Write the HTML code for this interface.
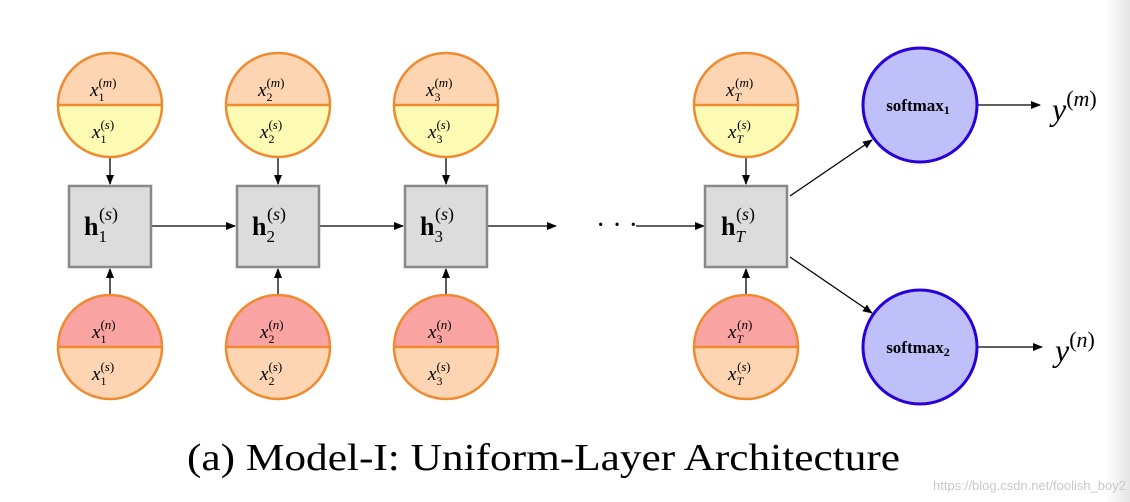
<!DOCTYPE html>
<html><head><meta charset="utf-8"><style>
html,body{margin:0;padding:0;background:#fff;}
svg{display:block;}
.m{font-family:"Liberation Serif",serif;font-style:italic;}
</style></head><body>
<svg width="1130" height="502" viewBox="0 0 1130 502" xmlns="http://www.w3.org/2000/svg">
<defs>
<linearGradient id="g" x1="0" x2="1"><stop offset="0" stop-color="#fff"/><stop offset="1" stop-color="#e4e4e4"/></linearGradient>
<marker id="a" markerWidth="10" markerHeight="8" refX="9" refY="4" orient="auto" markerUnits="userSpaceOnUse"><path d="M0,0 L10,4 L0,8 z" fill="#000"/></marker>
<clipPath id="ct"><rect x="0" y="0" width="1130" height="105"/></clipPath>
<clipPath id="cb"><rect x="0" y="105" width="1130" height="100"/></clipPath>
<clipPath id="ct2"><rect x="0" y="0" width="1130" height="347"/></clipPath>
<clipPath id="cb2"><rect x="0" y="347" width="1130" height="100"/></clipPath>
</defs>
<rect x="1105" y="0" width="25" height="502" fill="url(#g)"/>
<g id="cols" font-family="Liberation Serif,serif" font-style="italic" font-size="18" text-anchor="middle">
</g>
<!-- columns -->
<g stroke="#000" stroke-width="1.3" fill="none">
<line x1="110" y1="158" x2="110" y2="184" marker-end="url(#a)"/>
<line x1="278" y1="158" x2="278" y2="184" marker-end="url(#a)"/>
<line x1="446" y1="158" x2="446" y2="184" marker-end="url(#a)"/>
<line x1="746" y1="158" x2="746" y2="184" marker-end="url(#a)"/>
<line x1="110" y1="296" x2="110" y2="269" marker-end="url(#a)"/>
<line x1="278" y1="296" x2="278" y2="269" marker-end="url(#a)"/>
<line x1="446" y1="296" x2="446" y2="269" marker-end="url(#a)"/>
<line x1="746" y1="296" x2="746" y2="269" marker-end="url(#a)"/>
<line x1="152" y1="226" x2="235" y2="226" marker-end="url(#a)"/>
<line x1="320" y1="226" x2="403" y2="226" marker-end="url(#a)"/>
<line x1="488" y1="226" x2="556" y2="226" marker-end="url(#a)"/>
<line x1="636" y1="226" x2="704" y2="226" marker-end="url(#a)"/>
<line x1="790" y1="196" x2="872" y2="140" marker-end="url(#a)"/>
<line x1="790" y1="257" x2="872" y2="313" marker-end="url(#a)"/>
<line x1="978" y1="105" x2="1040" y2="105" marker-end="url(#a)"/>
<line x1="978" y1="347" x2="1042" y2="347" marker-end="url(#a)"/>
</g>
<text x="596" y="234" font-family="Liberation Serif,serif" font-size="28">· · ·</text>

<!-- top circles -->
<g stroke="#f08a30" stroke-width="2.5">
<g clip-path="url(#ct)">
<circle cx="110" cy="105" r="52" fill="#fdd5b2"/><circle cx="278" cy="105" r="52" fill="#fdd5b2"/><circle cx="446" cy="105" r="52" fill="#fdd5b2"/><circle cx="746" cy="105" r="52" fill="#fdd5b2"/>
</g>
<g clip-path="url(#cb)">
<circle cx="110" cy="105" r="52" fill="#fdfbb3"/><circle cx="278" cy="105" r="52" fill="#fdfbb3"/><circle cx="446" cy="105" r="52" fill="#fdfbb3"/><circle cx="746" cy="105" r="52" fill="#fdfbb3"/>
</g>
<g clip-path="url(#ct2)">
<circle cx="110" cy="347" r="52" fill="#f9a3a2"/><circle cx="278" cy="347" r="52" fill="#f9a3a2"/><circle cx="446" cy="347" r="52" fill="#f9a3a2"/><circle cx="746" cy="347" r="52" fill="#f9a3a2"/>
</g>
<g clip-path="url(#cb2)">
<circle cx="110" cy="347" r="52" fill="#fdd5b2"/><circle cx="278" cy="347" r="52" fill="#fdd5b2"/><circle cx="446" cy="347" r="52" fill="#fdd5b2"/><circle cx="746" cy="347" r="52" fill="#fdd5b2"/>
</g>
<line x1="58" y1="105" x2="162" y2="105"/><line x1="226" y1="105" x2="330" y2="105"/><line x1="394" y1="105" x2="498" y2="105"/><line x1="694" y1="105" x2="798" y2="105"/>
<line x1="58" y1="347" x2="162" y2="347"/><line x1="226" y1="347" x2="330" y2="347"/><line x1="394" y1="347" x2="498" y2="347"/><line x1="694" y1="347" x2="798" y2="347"/>
</g>
<!-- boxes -->
<g fill="#dcdcdc" stroke="#888" stroke-width="2.5">
<rect x="69" y="186" width="82" height="81"/><rect x="237" y="186" width="82" height="81"/><rect x="405" y="186" width="82" height="81"/><rect x="705" y="186" width="82" height="81"/>
</g>
<!-- softmax -->
<g fill="#bfbffa" stroke="#2a00d8" stroke-width="3">
<circle cx="920" cy="105" r="57"/><circle cx="920" cy="347" r="57"/>
</g>
<g font-family="Liberation Serif,serif" font-weight="bold" font-size="17" text-anchor="middle">
<text x="918" y="111">softmax<tspan font-size="12" dy="3">1</tspan></text>
<text x="918" y="353">softmax<tspan font-size="12" dy="3">2</tspan></text>
</g>
<g font-family="Liberation Serif,serif" font-style="italic">
<text x="1052" y="120" font-size="32">y<tspan font-style="normal" font-size="22" dy="-14">(</tspan><tspan font-size="22">m</tspan><tspan font-style="normal" font-size="22">)</tspan></text>
<text x="1055" y="361" font-size="32">y<tspan font-style="normal" font-size="22" dy="-14">(</tspan><tspan font-size="22">n</tspan><tspan font-style="normal" font-size="22">)</tspan></text>
</g>
<!-- circle labels -->
<g font-family="Liberation Serif,serif" font-style="italic" font-size="19">
<g id="l1">
<text x="90" y="96">x<tspan font-size="12" dy="5" font-style="normal">1</tspan><tspan font-size="13" dx="-6" dy="-14"><tspan font-style="normal">(</tspan>m<tspan font-style="normal">)</tspan></tspan></text>
<text x="92" y="138">x<tspan font-size="12" dy="5" font-style="normal">1</tspan><tspan font-size="13" dx="-6" dy="-14"><tspan font-style="normal">(</tspan>s<tspan font-style="normal">)</tspan></tspan></text>
<text x="92" y="338">x<tspan font-size="12" dy="5" font-style="normal">1</tspan><tspan font-size="13" dx="-6" dy="-14"><tspan font-style="normal">(</tspan>n<tspan font-style="normal">)</tspan></tspan></text>
<text x="92" y="380">x<tspan font-size="12" dy="5" font-style="normal">1</tspan><tspan font-size="13" dx="-6" dy="-14"><tspan font-style="normal">(</tspan>s<tspan font-style="normal">)</tspan></tspan></text>
</g>
<text x="258" y="96">x<tspan font-size="12" dy="5" font-style="normal">2</tspan><tspan font-size="13" dx="-6" dy="-14"><tspan font-style="normal">(</tspan>m<tspan font-style="normal">)</tspan></tspan></text>
<text x="260" y="138">x<tspan font-size="12" dy="5" font-style="normal">2</tspan><tspan font-size="13" dx="-6" dy="-14"><tspan font-style="normal">(</tspan>s<tspan font-style="normal">)</tspan></tspan></text>
<text x="260" y="338">x<tspan font-size="12" dy="5" font-style="normal">2</tspan><tspan font-size="13" dx="-6" dy="-14"><tspan font-style="normal">(</tspan>n<tspan font-style="normal">)</tspan></tspan></text>
<text x="260" y="380">x<tspan font-size="12" dy="5" font-style="normal">2</tspan><tspan font-size="13" dx="-6" dy="-14"><tspan font-style="normal">(</tspan>s<tspan font-style="normal">)</tspan></tspan></text>
<text x="426" y="96">x<tspan font-size="12" dy="5" font-style="normal">3</tspan><tspan font-size="13" dx="-6" dy="-14"><tspan font-style="normal">(</tspan>m<tspan font-style="normal">)</tspan></tspan></text>
<text x="428" y="138">x<tspan font-size="12" dy="5" font-style="normal">3</tspan><tspan font-size="13" dx="-6" dy="-14"><tspan font-style="normal">(</tspan>s<tspan font-style="normal">)</tspan></tspan></text>
<text x="428" y="338">x<tspan font-size="12" dy="5" font-style="normal">3</tspan><tspan font-size="13" dx="-6" dy="-14"><tspan font-style="normal">(</tspan>n<tspan font-style="normal">)</tspan></tspan></text>
<text x="428" y="380">x<tspan font-size="12" dy="5" font-style="normal">3</tspan><tspan font-size="13" dx="-6" dy="-14"><tspan font-style="normal">(</tspan>s<tspan font-style="normal">)</tspan></tspan></text>
<text x="726" y="96">x<tspan font-size="12" dy="5">T</tspan><tspan font-size="13" dx="-6" dy="-14"><tspan font-style="normal">(</tspan>m<tspan font-style="normal">)</tspan></tspan></text>
<text x="728" y="138">x<tspan font-size="12" dy="5">T</tspan><tspan font-size="13" dx="-6" dy="-14"><tspan font-style="normal">(</tspan>s<tspan font-style="normal">)</tspan></tspan></text>
<text x="728" y="338">x<tspan font-size="12" dy="5">T</tspan><tspan font-size="13" dx="-6" dy="-14"><tspan font-style="normal">(</tspan>n<tspan font-style="normal">)</tspan></tspan></text>
<text x="728" y="380">x<tspan font-size="12" dy="5">T</tspan><tspan font-size="13" dx="-6" dy="-14"><tspan font-style="normal">(</tspan>s<tspan font-style="normal">)</tspan></tspan></text>
</g>
<!-- box labels -->
<g font-family="Liberation Serif,serif" font-size="26">
<text x="84" y="235" font-weight="bold">h<tspan font-size="17" font-weight="normal" dy="7">1</tspan><tspan font-size="18" font-weight="normal" dx="-8" dy="-22">(<tspan font-style="italic">s</tspan>)</tspan></text>
<text x="252" y="235" font-weight="bold">h<tspan font-size="17" font-weight="normal" dy="7">2</tspan><tspan font-size="18" font-weight="normal" dx="-8" dy="-22">(<tspan font-style="italic">s</tspan>)</tspan></text>
<text x="420" y="235" font-weight="bold">h<tspan font-size="17" font-weight="normal" dy="7">3</tspan><tspan font-size="18" font-weight="normal" dx="-8" dy="-22">(<tspan font-style="italic">s</tspan>)</tspan></text>
<text x="721" y="235" font-weight="bold">h<tspan font-size="17" font-weight="normal" font-style="italic" dy="7">T</tspan><tspan font-size="18" font-weight="normal" dx="-9" dy="-22">(<tspan font-style="italic">s</tspan>)</tspan></text>
</g>
<text x="187" y="470" font-family="Liberation Serif,serif" font-size="38" textLength="713" lengthAdjust="spacingAndGlyphs">(a) Model-I: Uniform-Layer Architecture</text>
<text x="567" y="490" font-family="Liberation Sans,sans-serif" font-size="13" fill="#c8c8c8" transform="translate(0,0)"><tspan x="1126" text-anchor="end">https://blog.csdn.net/foolish_boy2</tspan></text>
</svg>
</body></html>
